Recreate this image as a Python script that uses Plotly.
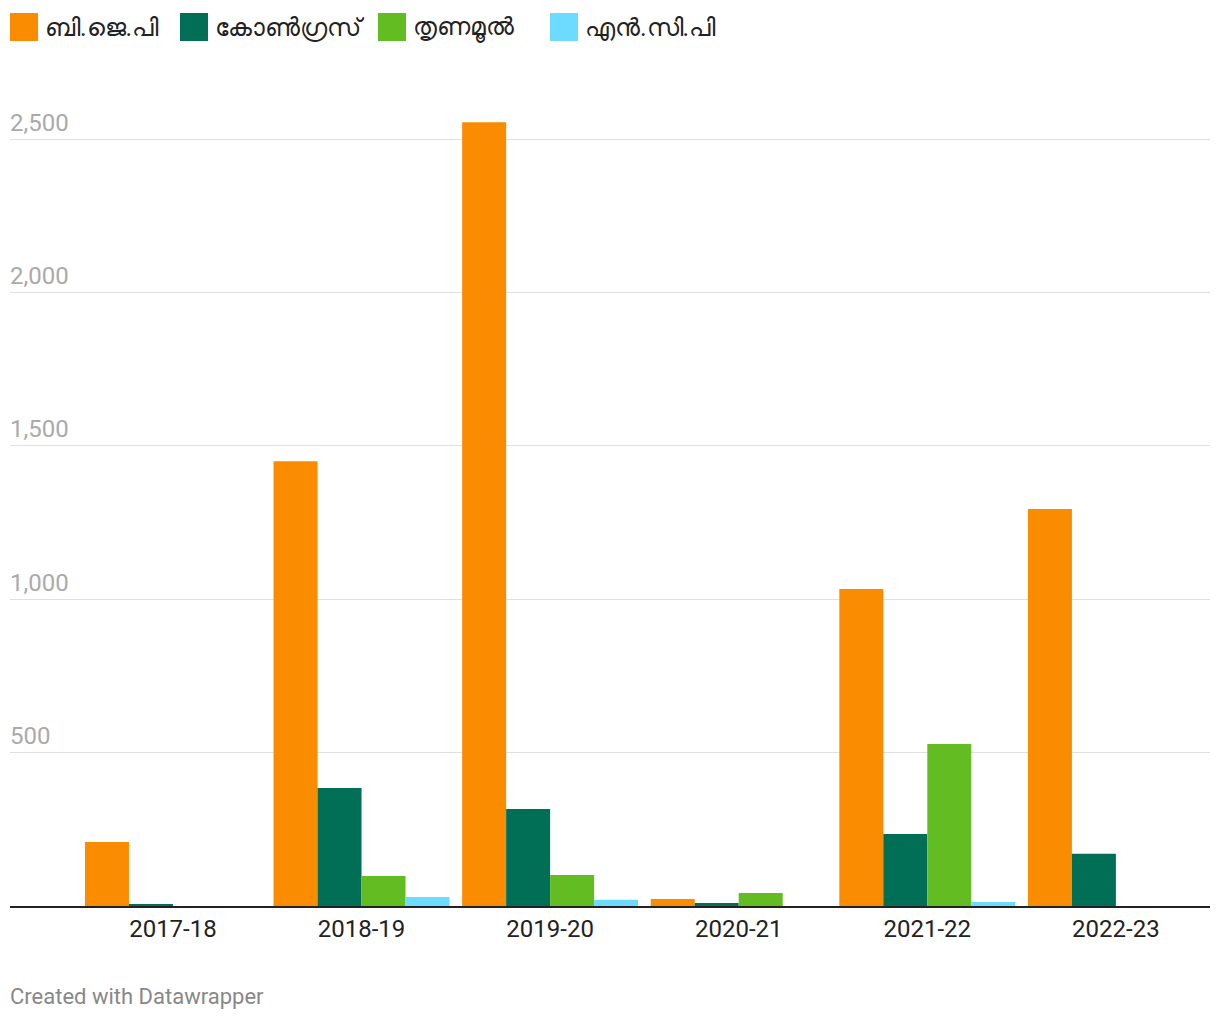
import plotly.graph_objects as go

# fiscal years on the x axis
years = ["2017-18", "2018-19", "2019-20", "2020-21", "2021-22", "2022-23"]

# party names (legend) and colours
parties = ["ബി.ജെ.പി", "കോൺഗ്രസ്", "തൃണമൂൽ", "എൻ.സി.പി"]
colors = ["#f98c00", "#006f56", "#63bc22", "#6ddaff"]

# values
bjp = [209, 1450, 2555, 23, 1033, 1294]
congress = [5, 385, 316, 10, 235, 170]
tmc = [0, 98, 101, 42, 528, 0]
ncp = [0, 29, 20, 0, 13, 0]

series = [bjp, congress, tmc, ncp]

y_ticks = [500, 1000, 1500, 2000, 2500]
y_tick_text = ["500", "1,000", "1,500", "2,000", "2,500"]

font_family = "Roboto, 'Noto Sans', sans-serif"

# plot area in page pixels: x 10..1210, y 80..906 (page has an 8px body margin)
PLOT_TOP = 80
PLOT_H = 906 - PLOT_TOP

def px_x(x):
    return (x - 10) / 1200

def px_y(y):
    return 1 + (PLOT_TOP - y) / PLOT_H

fig = go.Figure()
for name, vals, col in zip(parties, series, colors):
    fig.add_trace(go.Bar(x=years, y=vals, name=name, marker_color=col,
                         marker_line_width=0, showlegend=False))

# hand-made legend so the swatches can be big squares
legend_x = [10, 180, 378, 550]
shapes = []
annotations = []
for x0, name, col in zip(legend_x, parties, colors):
    shapes.append(dict(type="rect", xref="paper", yref="paper",
                       x0=px_x(x0), x1=px_x(x0 + 28),
                       y0=px_y(41), y1=px_y(13),
                       fillcolor=col, line_width=0))
    annotations.append(dict(text=name, xref="paper", yref="paper",
                            x=px_x(x0 + 33), y=px_y(27),
                            xanchor="left", yanchor="middle", showarrow=False,
                            font=dict(size=25, color="#222222")))

annotations.append(dict(text="Created with Datawrapper", xref="paper", yref="paper",
                        x=px_x(8), y=px_y(997), xanchor="left", yanchor="middle",
                        showarrow=False, font=dict(size=22, color="#888888")))

fig.update_layout(
    width=1212, height=1012,
    margin=dict(l=2, r=10, t=PLOT_TOP - 8, b=114),
    paper_bgcolor="white", plot_bgcolor="white",
    font=dict(family=font_family, size=24, color="#222222"),
    barmode="group", bargap=0.067, bargroupgap=0,
    shapes=shapes, annotations=annotations,
    xaxis=dict(range=[-0.864, 5.499], showgrid=False, showline=True,
               linecolor="#222222", linewidth=2, ticks="",
               tickfont=dict(size=24, color="#222222")),
    yaxis=dict(range=[0, PLOT_H / 0.3068], tickvals=y_ticks, ticktext=y_tick_text,
               ticklabelposition="inside top", ticklabelstandoff=-3,
               showgrid=True, gridcolor="#e0e0e0", gridwidth=1, zeroline=False,
               showline=False, ticks="",
               tickfont=dict(size=24, color="#aaaaaa")),
)

fig.write_html("out.html")
